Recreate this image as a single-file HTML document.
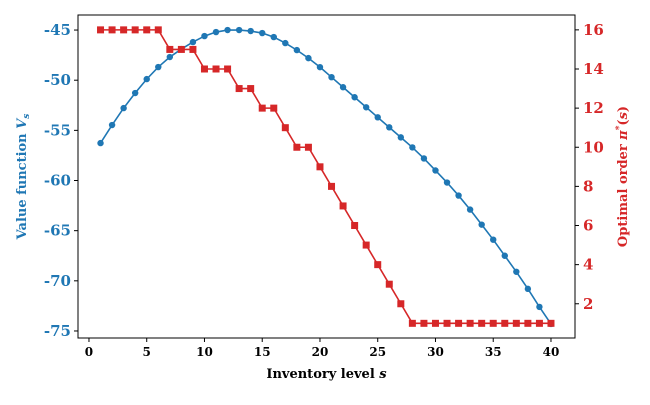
<!DOCTYPE html>
<html><head><meta charset="utf-8"><style>
body{margin:0;background:#fff}
text{font-family:"DejaVu Serif","Liberation Serif",serif;font-weight:bold}
</style></head><body>
<svg id="c" width="650" height="400"></svg>
<script>
const sVals=[1,2,3,4,5,6,7,8,9,10,11,12,13,14,15,16,17,18,19,20,21,22,23,24,25,26,27,28,29,30,31,32,33,34,35,36,37,38,39,40];
const valueFn=[-56.27,-54.47,-52.78,-51.28,-49.89,-48.69,-47.69,-46.9,-46.2,-45.6,-45.2,-45.0,-45.0,-45.1,-45.3,-45.7,-46.3,-47.0,-47.8,-48.7,-49.7,-50.7,-51.7,-52.7,-53.7,-54.7,-55.7,-56.7,-57.8,-59.0,-60.2,-61.5,-62.9,-64.4,-65.9,-67.5,-69.1,-70.8,-72.6,-74.3];
const orders=[16,16,16,16,16,16,15,15,15,14,14,14,13,13,12,12,11,10,10,9,8,7,6,5,4,3,2,1,1,1,1,1,1,1,1,1,1,1,1,1];
const xTicks=[0,5,10,15,20,25,30,35,40];
const yLTicks=[-45,-50,-55,-60,-65,-70,-75];
const yRTicks=[2,4,6,8,10,12,14,16];
const L=78,R=575,T=15,B=338;
const x=v=>L+(v+0.95)/(42.08+0.95)*(R-L);
const yl=v=>B-(v+75.7)/(-43.5+75.7)*(B-T);
const yr=v=>B-(v-0.25)/(16.76-0.25)*(B-T);
const svg=document.getElementById('c');const NS='http://www.w3.org/2000/svg';
function mk(t,a,p){const e=document.createElementNS(NS,t);for(const k in a)e.setAttribute(k,a[k]);(p||svg).appendChild(e);return e;}
const blue='#1f77b4',red='#d62728';
let g=mk('g',{});


mk('polyline',{points:sVals.map((s,i)=>x(s)+','+yl(valueFn[i])).join(' '),fill:'none',stroke:blue,'stroke-width':1.6},g);
sVals.forEach((s,i)=>{const c=mk('circle',{cx:x(s),cy:yl(valueFn[i]),r:3.2,fill:blue},g);

});
let g2=mk('g',{});


mk('polyline',{points:sVals.map((s,i)=>x(s)+','+yr(orders[i])).join(' '),fill:'none',stroke:red,'stroke-width':1.6},g2);
sVals.forEach((s,i)=>{const r=mk('rect',{x:x(s)-3.5,y:yr(orders[i])-3.5,width:7,height:7,fill:red},g2);

});
mk('rect',{x:L,y:T,width:R-L,height:B-T,fill:'none',stroke:'#000','stroke-width':1});
xTicks.forEach(v=>{mk('line',{x1:x(v),x2:x(v),y1:B,y2:B+4,stroke:'#000'});const t=mk('text',{x:x(v),y:B+18,'text-anchor':'middle','font-size':12});t.textContent=v;

});
yLTicks.forEach(v=>{mk('line',{x1:L-4,x2:L,y1:yl(v),y2:yl(v),stroke:'#000'});const t=mk('text',{x:L-7,y:yl(v)+5,'text-anchor':'end','font-size':15,fill:blue});t.textContent=v;

});
yRTicks.forEach(v=>{mk('line',{x1:R,x2:R+4,y1:yr(v),y2:yr(v),stroke:'#000'});const t=mk('text',{x:R+8,y:yr(v)+5,'text-anchor':'start','font-size':15,fill:red});t.textContent=v;

});
let t=mk('text',{x:(L+R)/2,y:378,'text-anchor':'middle','font-size':13});t.innerHTML='Inventory level <tspan font-style="italic">s</tspan>';


t=mk('text',{x:0,y:0,'text-anchor':'middle','font-size':13,fill:blue,transform:`translate(26,${(T+B)/2}) rotate(-90)`});t.innerHTML='Value function <tspan font-style="italic">V</tspan><tspan font-style="italic" font-size="9" dy="3">s</tspan>';


t=mk('text',{x:0,y:0,'text-anchor':'middle','font-size':13,fill:red,transform:`translate(627,${(T+B)/2}) rotate(-90)`});t.innerHTML='Optimal order <tspan font-style="italic">π</tspan><tspan font-size="9" dy="-5">*</tspan><tspan dy="5">(</tspan><tspan font-style="italic">s</tspan>)';


</script>
</body></html>
